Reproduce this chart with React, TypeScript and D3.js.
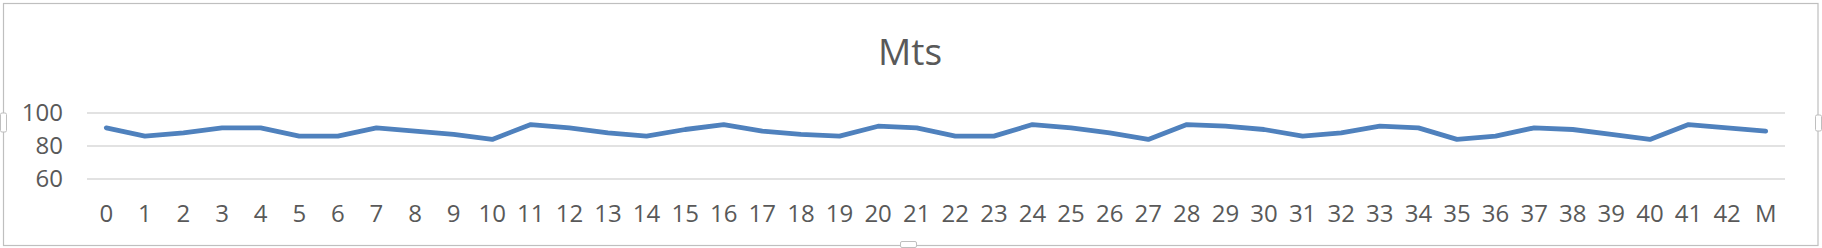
import React from "react";
import * as d3 from "d3";

const categories: string[] = [
  "0","1","2","3","4","5","6","7","8","9","10","11","12","13","14","15","16","17","18","19","20","21",
  "22","23","24","25","26","27","28","29","30","31","32","33","34","35","36","37","38","39","40","41","42","M",
];
const mtsValues: number[] = [
  91, 86, 88, 91, 91, 86, 86, 91, 89, 87, 84, 93, 91, 88, 86, 90, 93, 89, 87, 86, 92, 91,
  86, 86, 93, 91, 88, 84, 93, 92, 90, 86, 88, 92, 91, 84, 86, 91, 90, 87, 84, 93, 91, 89,
];
const yTicks: number[] = [60, 80, 100];
const title = "Mts";

const W = 1822;
const H = 248;
const FONT = "'Open Sans', 'Liberation Sans', sans-serif";
const TEXT = "#595959";
const GRID = "#D9D9D9";
const LINE = "#4F81BD";

export default function App() {
  const x = d3.scaleBand<string>().domain(categories).range([87, 1785]).padding(0);
  const y = d3.scaleLinear().domain([60, 100]).range([179, 113]);
  const cx = (c: string) => (x(c) ?? 0) + x.bandwidth() / 2;
  const line = d3
    .line<number>()
    .x((_, i) => cx(categories[i]))
    .y((d) => y(d));

  const handle = (hx: number, hy: number, w: number, h: number, key: string) => (
    <rect key={key} x={hx} y={hy} width={w} height={h} rx={1.5} fill="#fff" stroke="#BFBFBF" strokeWidth={1} />
  );

  return (
    <svg
      width={W}
      height={H}
      style={{ position: "absolute", left: 0, top: 0, display: "block" }}
      xmlns="http://www.w3.org/2000/svg"
    >
      <rect x={0} y={0} width={W} height={H} fill="#fff" />
      <rect x={3.5} y={3.5} width={1814.5} height={242} fill="#fff" stroke="#BFBFBF" strokeWidth={1.2} />
      {/* selection handles */}
      {handle(0.5, 113, 6, 19, "l")}
      {handle(1815.5, 115, 6, 16, "r")}
      {handle(900.5, 241.5, 16, 6, "b")}

      <text x={910} y={65} textAnchor="middle" fontFamily={FONT} fontSize={37} fill={TEXT}>
        {title}
      </text>

      {yTicks.map((t) => (
        <g key={t}>
          <line x1={87} x2={1785} y1={y(t)} y2={y(t)} stroke={GRID} strokeWidth={1.5} />
          <text x={63} y={y(t) + 8} textAnchor="end" fontFamily={FONT} fontSize={24} fill={TEXT}>
            {t}
          </text>
        </g>
      ))}

      {categories.map((c) => (
        <text key={c} x={cx(c)} y={222} textAnchor="middle" fontFamily={FONT} fontSize={24} fill={TEXT}>
          {c}
        </text>
      ))}

      <path
        d={line(mtsValues) ?? ""}
        fill="none"
        stroke={LINE}
        strokeWidth={4.8}
        strokeLinejoin="round"
        strokeLinecap="round"
      />
    </svg>
  );
}
